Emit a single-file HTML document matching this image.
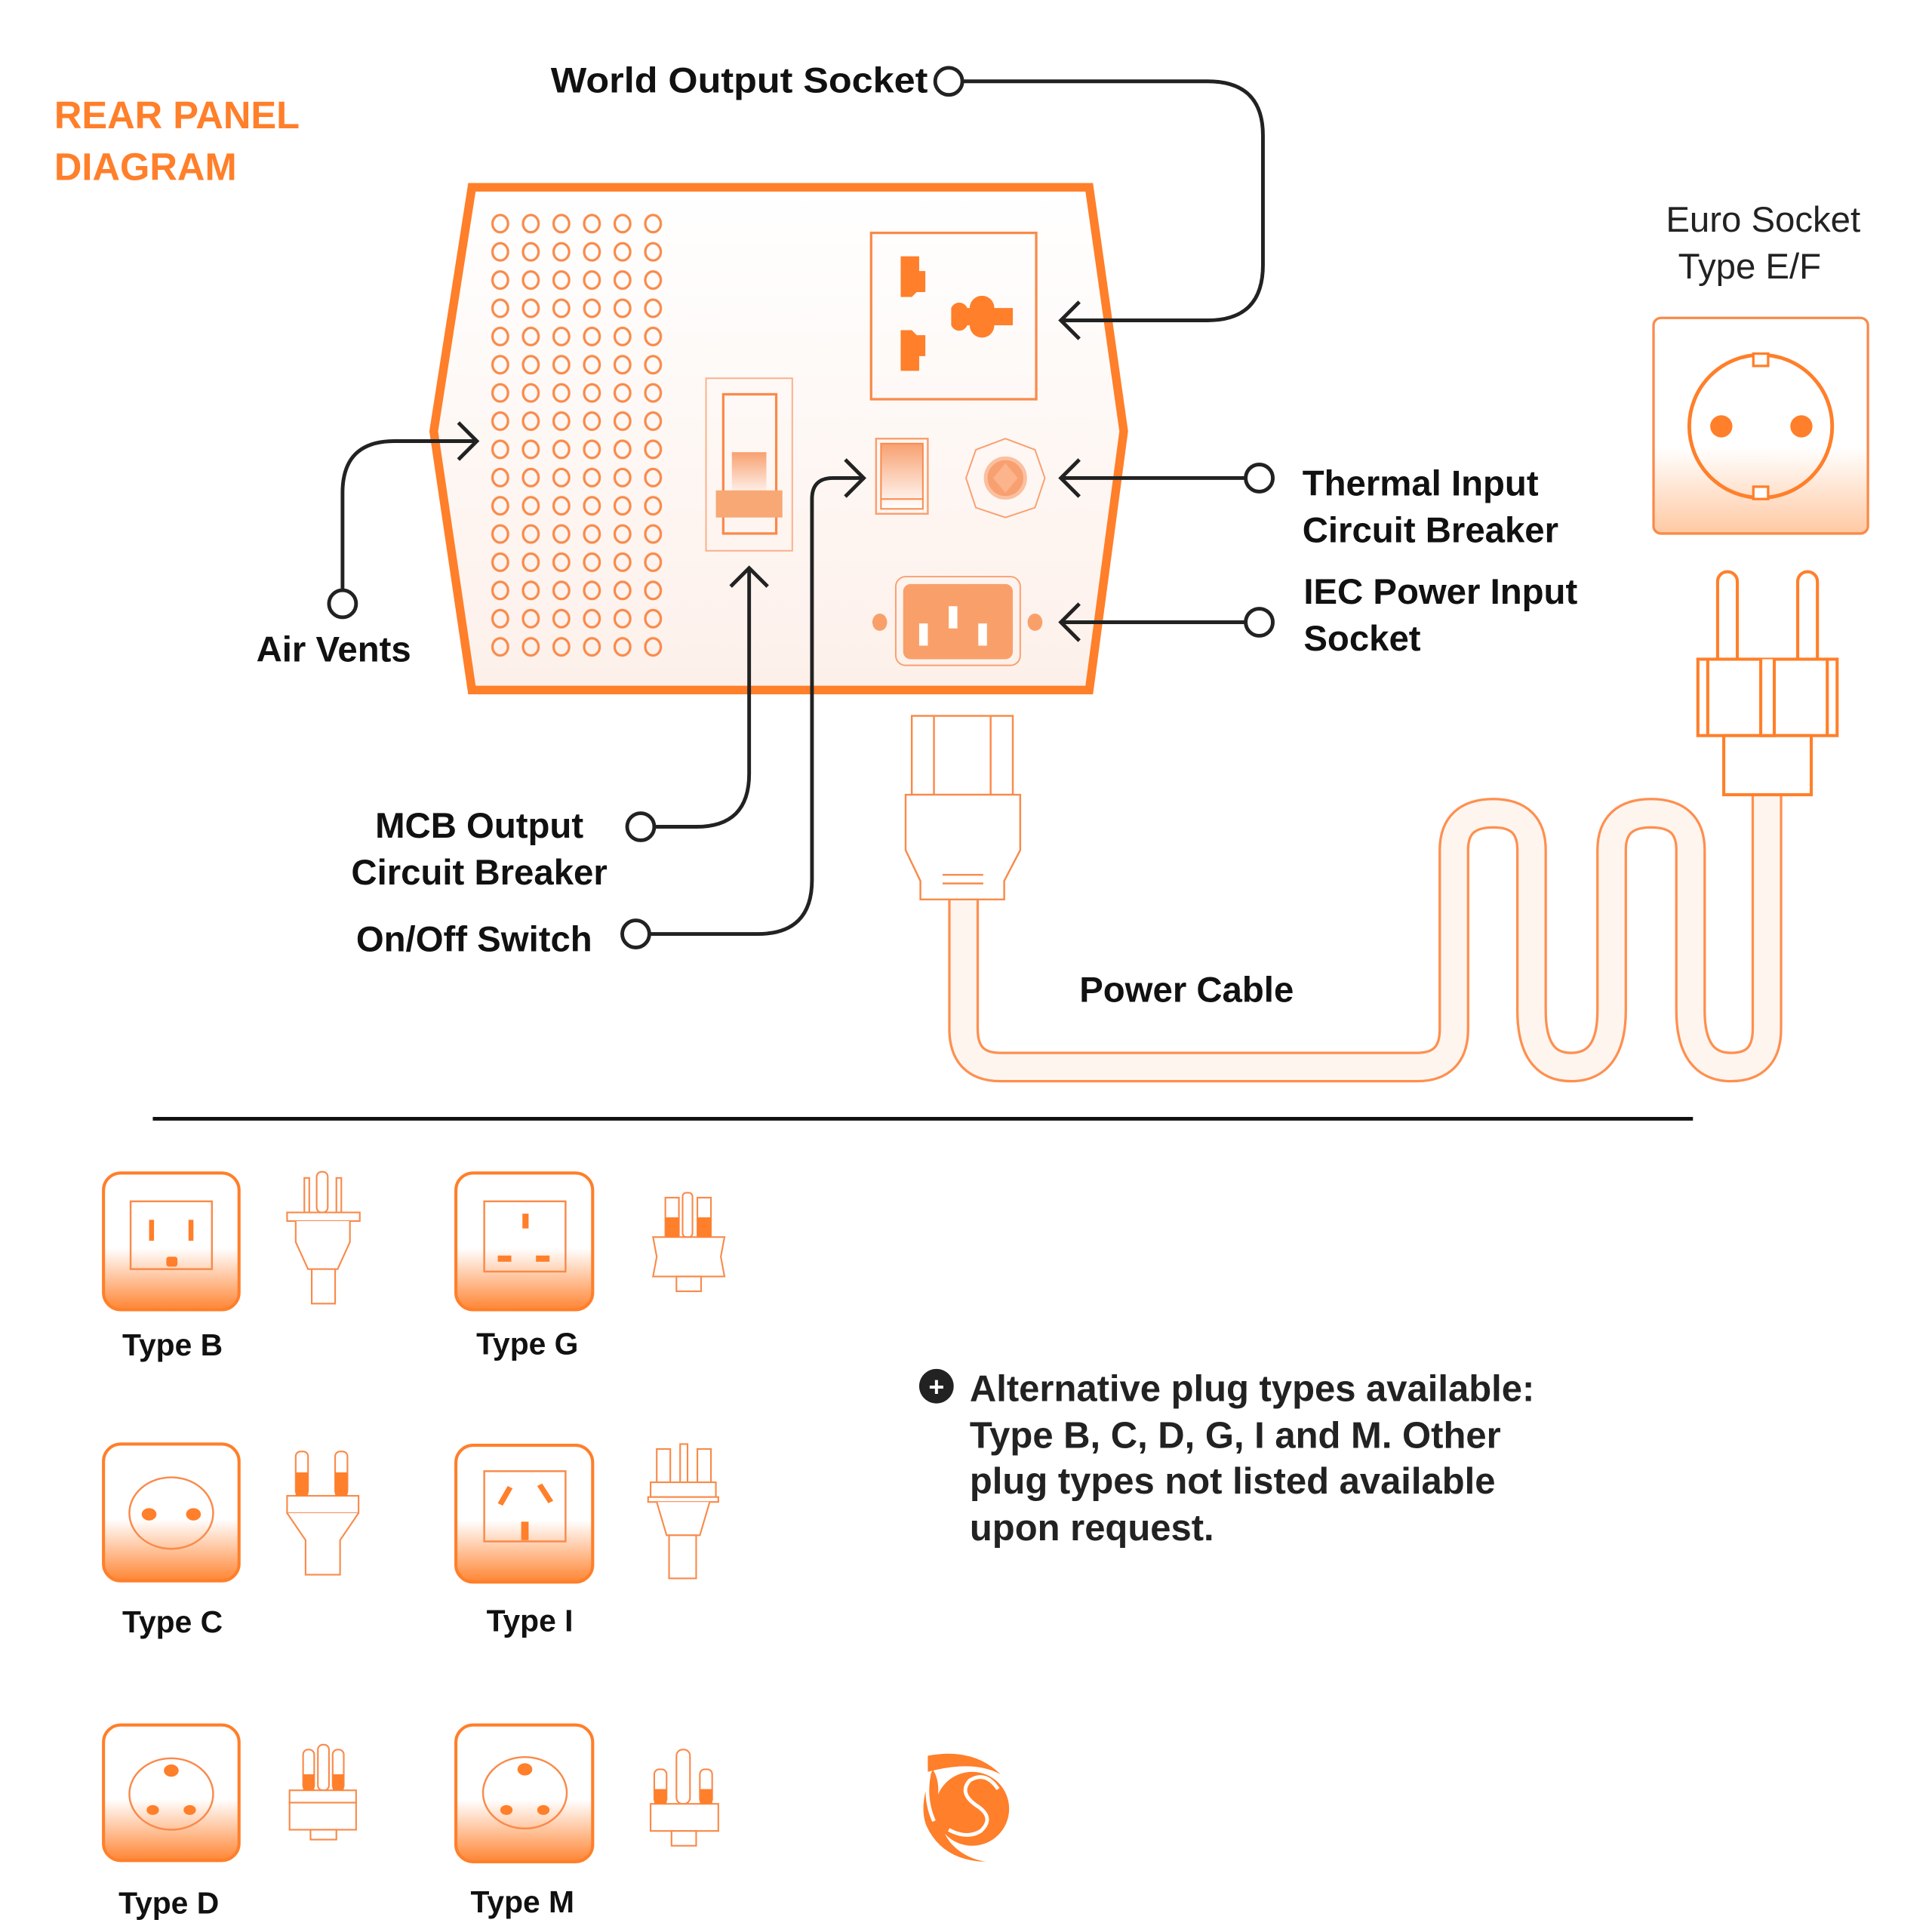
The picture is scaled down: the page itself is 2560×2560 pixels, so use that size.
<!DOCTYPE html>
<html><head><meta charset="utf-8"><style>
html,body{margin:0;padding:0;background:#fff}
svg{display:block}
text{font-family:"Liberation Sans",sans-serif}
</style></head><body>
<svg width="2560" height="2560" viewBox="0 0 1568 1568" xmlns="http://www.w3.org/2000/svg">
<defs>
<linearGradient id="pg" x1="0" y1="0" x2="0" y2="1"><stop offset="0" stop-color="#fff"/><stop offset="1" stop-color="#fdf0ea"/></linearGradient>
<linearGradient id="sg" x1="0" y1="0" x2="0" y2="1"><stop offset="0" stop-color="#fff"/><stop offset="0.55" stop-color="#fff"/><stop offset="1" stop-color="#ff8533"/></linearGradient>
<linearGradient id="eg" x1="0" y1="0" x2="0" y2="1"><stop offset="0" stop-color="#fff"/><stop offset="0.6" stop-color="#fff"/><stop offset="1" stop-color="#ffc9a3"/></linearGradient>
<linearGradient id="hg" x1="0" y1="0" x2="0" y2="1"><stop offset="0" stop-color="#f8a070"/><stop offset="1" stop-color="#fff"/></linearGradient>
<pattern id="vent" x="394" y="170" width="24.8" height="22.9" patternUnits="userSpaceOnUse">
<ellipse cx="12" cy="11.5" rx="6.3" ry="7" fill="none" stroke="#f98a4a" stroke-width="2"/>
</pattern>
</defs>

<text x="44" y="104" font-size="31" fill="#ff7f2a" font-weight="bold">REAR PANEL</text>
<text x="44" y="146" font-size="31" fill="#ff7f2a" font-weight="bold">DIAGRAM</text>

<!-- panel -->
<polygon points="383,152 884,152 912,350 884,560 383,560 352,350" fill="url(#pg)" stroke="#ff7f2a" stroke-width="7"/>
<rect x="394" y="170" width="149" height="366" fill="url(#vent)"/>
<!-- world socket -->
<rect x="707" y="189" width="134" height="135" fill="none" stroke="#f98a4a" stroke-width="2"/>
<path d="M731,208h15v12h5v17h-7l-4,4h-9z" fill="#ff7f2a"/>
<path d="M731,268h9l4,4h7v17h-5v12h-15z" fill="#ff7f2a"/>
<path d="M772,250a7,7 0 0 1 13,0h2a10,10 0 0 1 20,0h15v14h-15a10,10 0 0 1 -20,0h-2a7,7 0 0 1 -13,0z" fill="#ff7f2a"/>
<!-- main switch -->
<rect x="573" y="307" width="70" height="140" fill="none" stroke="#f9b08a" stroke-width="1.2"/>
<rect x="587" y="320" width="43" height="113" fill="none" stroke="#f98a4a" stroke-width="2"/>
<rect x="594" y="367" width="28" height="38" fill="url(#hg)"/>
<rect x="581" y="398" width="54" height="22" fill="#f8a874"/>
<!-- small switch -->
<rect x="711" y="356" width="42" height="61" fill="none" stroke="#f9a070" stroke-width="1.5"/>
<rect x="715" y="360" width="34" height="53" fill="url(#hg)" stroke="#f98a4a" stroke-width="1.2"/>
<line x1="715" y1="405" x2="749" y2="405" stroke="#f98a4a" stroke-width="1.2"/>
<!-- thermal -->
<polygon points="816,356 840,365 848,388 840,412 816,420 792,412 784,388 792,365" fill="none" stroke="#f9a070" stroke-width="1.2"/>
<circle cx="816" cy="388" r="16" fill="#f9a070" stroke="#fbc0a0" stroke-width="3"/>
<polygon points="816,376 826,388 816,400 806,388" fill="#fbb48c"/>
<!-- IEC -->
<rect x="727" y="468" width="101" height="72" rx="8" fill="none" stroke="#f9a070" stroke-width="1.2"/>
<rect x="733" y="474" width="89" height="61" rx="6" fill="#f9a06a"/>
<rect x="746" y="506" width="7" height="18" fill="#fff"/><rect x="770" y="492" width="7" height="18" fill="#fff"/><rect x="794" y="506" width="7" height="18" fill="#fff"/>
<ellipse cx="714" cy="505" rx="6" ry="7" fill="#f9a06a"/><ellipse cx="840" cy="505" rx="6" ry="7" fill="#f9a06a"/>

<!-- connectors -->
<g fill="none" stroke="#222" stroke-width="3">
<circle cx="770" cy="66" r="11" fill="#fff"/>
<path d="M781,66H980Q1025,66 1025,110V215Q1025,260 980,260H862"/>
<path d="M876,245L861,260L876,275"/>
<circle cx="1022" cy="388" r="11" fill="#fff"/>
<path d="M1011,388H862"/><path d="M876,373L861,388L876,403"/>
<circle cx="1022" cy="505" r="11" fill="#fff"/>
<path d="M1011,505H862"/><path d="M876,490L861,505L876,520"/>
<circle cx="278" cy="490" r="11" fill="#fff"/>
<path d="M278,479V400Q278,358 320,358H386"/><path d="M372,343L387,358L372,373"/>
<circle cx="520" cy="671" r="11" fill="#fff"/>
<path d="M531,671H565Q608,671 608,628V462"/><path d="M593,476L608,461L623,476"/>
<circle cx="516" cy="758" r="11" fill="#fff"/>
<path d="M527,758H615Q659,758 659,714V405Q659,388 676,388H700"/><path d="M686,373L701,388L686,403"/>
</g>

<g font-size="29" fill="#111" font-weight="bold">
<text x="753" y="75" text-anchor="end" textLength="306" lengthAdjust="spacingAndGlyphs">World Output Socket</text>
<text x="1057" y="402">Thermal Input</text>
<text x="1057" y="440">Circuit Breaker</text>
<text x="1058" y="490">IEC Power Input</text>
<text x="1058" y="528">Socket</text>
<text x="208" y="537">Air Vents</text>
<text x="389" y="680" text-anchor="middle">MCB Output</text>
<text x="389" y="718" text-anchor="middle">Circuit Breaker</text>
<text x="289" y="772">On/Off  Switch</text>
<text x="876" y="813">Power Cable</text>
</g>
<text x="1352" y="188" font-size="29" fill="#222">Euro Socket</text>
<text x="1362" y="226" font-size="29" fill="#222">Type E/F</text>

<!-- euro socket -->
<rect x="1342" y="258" width="174" height="175" rx="6" fill="url(#eg)" stroke="#f98a4a" stroke-width="2"/>
<circle cx="1429" cy="346" r="58" fill="none" stroke="#ff7f2a" stroke-width="3"/>
<rect x="1423" y="287" width="12" height="10" fill="#fff" stroke="#ff7f2a" stroke-width="2"/>
<rect x="1423" y="395" width="12" height="10" fill="#fff" stroke="#ff7f2a" stroke-width="2"/>
<circle cx="1397" cy="346" r="9" fill="#ff7f2a"/><circle cx="1462" cy="346" r="9" fill="#ff7f2a"/>

<!-- cable -->
<path d="M782,730V835Q782,866 812,866H1150Q1180,866 1180,835V690Q1180,660 1212,660Q1243,660 1243,690V820Q1243,866 1275,866Q1308,866 1308,820V690Q1308,660 1340,660Q1372,660 1372,690V820Q1372,866 1405,866Q1434,866 1434,835V640" fill="none" stroke="#ff8f4f" stroke-width="25"/>
<path d="M782,730V835Q782,866 812,866H1150Q1180,866 1180,835V690Q1180,660 1212,660Q1243,660 1243,690V820Q1243,866 1275,866Q1308,866 1308,820V690Q1308,660 1340,660Q1372,660 1372,690V820Q1372,866 1405,866Q1434,866 1434,835V640" fill="none" stroke="#fff5ef" stroke-width="21"/>

<!-- euro plug -->
<g fill="#fff" stroke="#ff7f2a" stroke-width="2.5">
<path d="M1394,535V472a8,8 0 0 1 16,0V535"/>
<path d="M1459,535V472a8,8 0 0 1 16,0V535"/>
<rect x="1378" y="535" width="113" height="62"/>
<rect x="1399" y="597" width="71" height="48"/>
<path d="M1429,535V597H1440V535"/>
<line x1="1386" y1="535" x2="1386" y2="597"/><line x1="1483" y1="535" x2="1483" y2="597"/>
</g>
<!-- IEC plug -->
<g fill="#fff" stroke="#f98a4a" stroke-width="1.5">
<rect x="740" y="581" width="82" height="64"/>
<line x1="758" y1="581" x2="758" y2="645"/><line x1="804" y1="581" x2="804" y2="645"/>
<path d="M735,645H828V690L815,715V730H747V715L735,690Z"/>
<line x1="765" y1="710" x2="798" y2="710"/><line x1="765" y1="717" x2="798" y2="717"/>
</g>

<line x1="124" y1="908" x2="1374" y2="908" stroke="#111" stroke-width="3"/>

<!-- bottom sockets -->
<g stroke="#ff7f2a" stroke-width="2.5" fill="url(#sg)">
<rect x="84" y="952" width="110" height="111" rx="14"/>
<rect x="370" y="952" width="111" height="111" rx="14"/>
<rect x="84" y="1172" width="110" height="111" rx="14"/>
<rect x="370" y="1173" width="111" height="111" rx="14"/>
<rect x="84" y="1400" width="110" height="110" rx="14"/>
<rect x="370" y="1400" width="111" height="111" rx="14"/>
</g>
<g fill="none" stroke="#f98a4a" stroke-width="1.5">
<rect x="106" y="975" width="66" height="55"/>
<rect x="393" y="975" width="66" height="57"/>
<rect x="393" y="1194" width="66" height="57"/>
<ellipse cx="139" cy="1228" rx="34" ry="29"/>
<ellipse cx="139" cy="1456" rx="34" ry="29"/>
<ellipse cx="426" cy="1455" rx="34" ry="29"/>
</g>
<g fill="#ff7f2a">
<rect x="121" y="990" width="4" height="17"/><rect x="153" y="990" width="4" height="17"/><rect x="135" y="1020" width="9" height="8" rx="2"/>
<rect x="424" y="985" width="5" height="12"/><rect x="404" y="1019" width="11" height="5"/><rect x="435" y="1019" width="11" height="5"/>
<ellipse cx="121" cy="1229" rx="6" ry="5"/><ellipse cx="157" cy="1229" rx="6" ry="5"/>
<path d="M404,1220l8,-14l4,2l-8,14z"/><path d="M436,1206l4,-2l9,14l-4,2z"/><rect x="423" y="1235" width="6" height="15"/>
<ellipse cx="139" cy="1437" rx="6" ry="5"/><ellipse cx="124" cy="1469" rx="5" ry="4"/><ellipse cx="154" cy="1469" rx="5" ry="4"/>
<ellipse cx="426" cy="1436" rx="6" ry="5"/><ellipse cx="411" cy="1469" rx="5" ry="4"/><ellipse cx="441" cy="1469" rx="5" ry="4"/>
</g>
<g font-size="25" fill="#111" font-weight="bold" text-anchor="middle">
<text x="140" y="1100">Type B</text><text x="428" y="1099">Type G</text>
<text x="140" y="1325">Type C</text><text x="430" y="1324">Type I</text>
<text x="137" y="1553">Type D</text><text x="424" y="1552">Type M</text>
</g>
<!-- small plugs -->
<g fill="#fff" stroke="#f98a4a" stroke-width="1.3">
<rect x="247" y="956" width="4" height="28"/><rect x="273" y="956" width="4" height="28"/><rect x="257" y="951" width="9" height="33" rx="4"/>
<rect x="233" y="984" width="59" height="7"/><path d="M240,991V1008L250,1030H274L284,1008V991"/>
<rect x="253" y="1030" width="19" height="28"/>
<rect x="240" y="1178" width="10" height="36" rx="4"/><rect x="272" y="1178" width="10" height="36" rx="4"/>
<rect x="233" y="1214" width="58" height="14"/><path d="M233,1228L248,1250V1278H276V1250L291,1228"/>
<rect x="246" y="1420" width="9" height="33" rx="4"/><rect x="258" y="1416" width="9" height="37" rx="4"/><rect x="270" y="1420" width="9" height="33" rx="4"/>
<rect x="235" y="1453" width="54" height="10"/><rect x="235" y="1463" width="54" height="22"/><rect x="252" y="1485" width="21" height="8"/>
<rect x="540" y="972" width="11" height="32"/><rect x="566" y="972" width="11" height="32"/><rect x="554" y="968" width="8" height="36" rx="3"/>
<path d="M530,1004H588L585,1020L588,1036H530L533,1020Z"/><rect x="549" y="1036" width="20" height="12"/>
<rect x="533" y="1176" width="11" height="27"/><rect x="566" y="1176" width="11" height="27"/><rect x="552" y="1172" width="6" height="31"/>
<rect x="528" y="1203" width="53" height="12"/><rect x="526" y="1215" width="57" height="4"/>
<path d="M533,1219L541,1246H568L576,1219"/><rect x="543" y="1246" width="22" height="35"/>
<rect x="531" y="1436" width="10" height="28" rx="4"/><rect x="568" y="1436" width="10" height="28" rx="4"/><rect x="549" y="1420" width="11" height="44" rx="5"/>
<rect x="528" y="1464" width="55" height="22"/><rect x="545" y="1486" width="20" height="12"/>
</g>
<g fill="#ff7f2a">
<rect x="240" y="1195" width="10" height="19"/><rect x="272" y="1195" width="10" height="19"/>
<rect x="246" y="1440" width="9" height="13"/><rect x="270" y="1440" width="9" height="13"/>
<rect x="540" y="988" width="11" height="16"/><rect x="566" y="988" width="11" height="16"/>
<rect x="531" y="1452" width="10" height="12"/><rect x="568" y="1452" width="10" height="12"/>
</g>

<!-- note -->
<circle cx="760" cy="1125" r="14" fill="#222"/>
<text x="760" y="1133" font-size="22" fill="#fff" font-weight="bold" text-anchor="middle">+</text>
<g font-size="30" fill="#222" font-weight="bold">
<text x="787" y="1137">Alternative plug types available:</text>
<text x="787" y="1175">Type B, C, D, G, I and M. Other</text>
<text x="787" y="1212">plug types not listed available</text>
<text x="787" y="1250">upon request.</text>
</g>

<!-- logo -->
<circle cx="789" cy="1468" r="30" fill="#ff7f2a"/>
<path d="M757,1436Q745,1465 752,1482Q765,1510 800,1511Q782,1508 771,1495Q760,1480 761,1460Q763,1445 757,1436Z" fill="#ff7f2a"/>
<path d="M754,1440Q750,1460 758,1478" fill="none" stroke="#fff" stroke-width="3"/>
<path d="M753,1425Q790,1418 812,1440Q790,1428 753,1438Z" fill="#ff7f2a"/>
<path d="M810,1452Q800,1437 787,1445Q778,1455 792,1465Q808,1475 796,1486Q785,1493 770,1485" fill="none" stroke="#fff" stroke-width="3"/>
</svg>
</body></html>
